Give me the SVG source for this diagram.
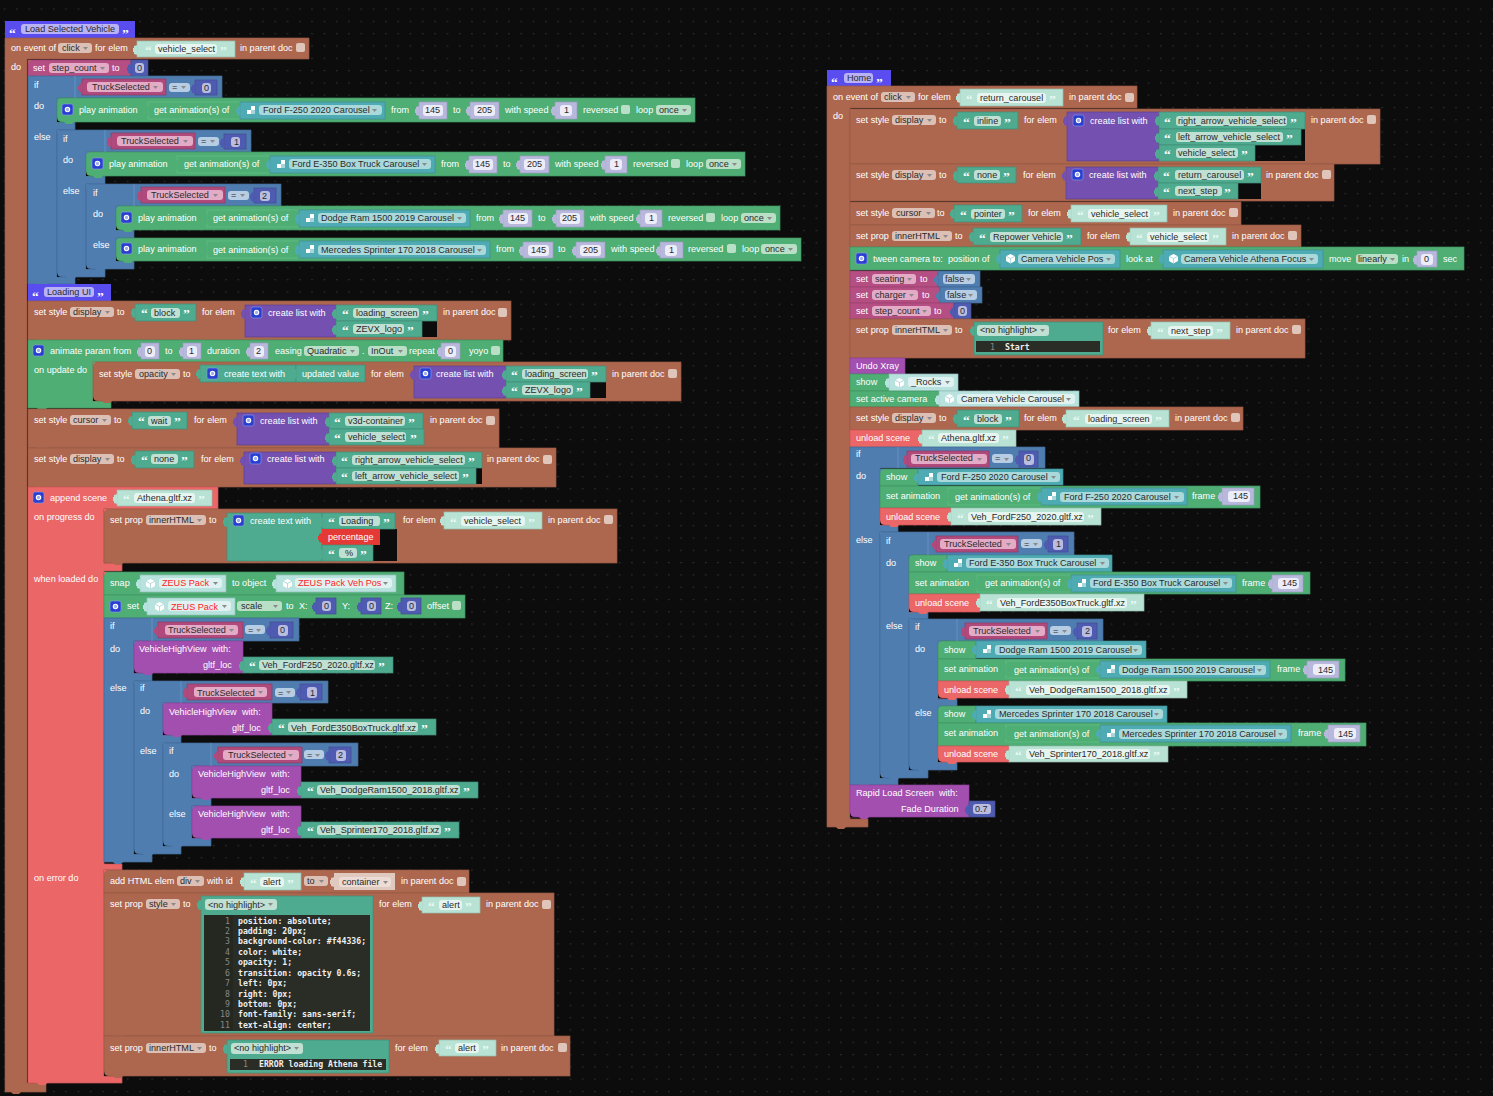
<svg xmlns="http://www.w3.org/2000/svg" width="1493" height="1096" viewBox="0 0 1493 1096">
<style>
text{font:9.1px "Liberation Sans",Arial,sans-serif;fill:#fff}
.d{fill:#2a2a2a}.r{fill:#f22}
.m{font:bold 8.2px "DejaVu Sans Mono","Liberation Mono",monospace;fill:#eee}
.n{font:8.2px "DejaVu Sans Mono","Liberation Mono",monospace;fill:#888}
.q{font:bold 13.5px "Liberation Serif",serif;fill:#fff;transform:translate(0,2.5px)}.ql{fill:#eafaf4}
.f{rx:3px}
.br{fill:#ae674f;stroke:#955844}.gr{fill:#4fae74;stroke:#419563}.bl{fill:#4f7db0;stroke:#436c99}.pk{fill:#b54e83;stroke:#9c4370}.pd{fill:#b04a7c;stroke:#8e3a64}
.pu{fill:#7450b0;stroke:#5d3f90}.co{fill:#ea6667;stroke:#cd5758}.ma{fill:#a34fb0;stroke:#8c4398}.ha{fill:#5a4df0}.rd{fill:#e53935}
.te{fill:#4fab8f;stroke:#3f8d75}.li{fill:#b7e2d4;stroke:#93bdae}.ob{fill:#4fabb3;stroke:#3f8d94}.nd{fill:#4f5bb0;stroke:#414b92}
.nl{fill:#b8b8dc;stroke:#9a9ac0}.ge{fill:#4fae74;stroke:#63c088}.cb{fill:#e0c9bf}.ol{fill:#b7e2de;stroke:#93bdba}.fb{fill:#4f7db0;stroke:#3f6796}
.br,.gr,.bl,.pk,.pd,.pu,.co,.ma,.te,.li,.ob,.nd,.nl,.ge,.ol,.fb{stroke-width:.7}
g use[class]{stroke:none}
.il{stroke:#6c97c6;stroke-width:.8;fill:none}
.ed{fill:#2a2c26}.gu{fill:#1f201c}
.fh{fill:#b9b2f5}.fp{fill:#e3abc6}.fd{fill:#dcc0b5}.fg{fill:#b9dfc7}.fs{fill:#bfe0d3}.fw{fill:#e6f5ef}.fo{fill:#a9d9da}.fn{fill:#b9bde0}.fl{fill:#ecedf8}.fe{fill:#b7cde3}.fc{fill:#ecdcd5}.fj{fill:#dff1f0}
.k{rx:2px;width:9px;height:9px}.kb{fill:#e0c5bb}.kg{fill:#b9dfc7}
.bk{fill:url(#dots)}.kk{fill:#0c0c0c}
</style>
<defs>
<pattern id="dots" width="12.3" height="12.3" patternUnits="userSpaceOnUse"><rect width="12.3" height="12.3" fill="#0c0c0c"/><rect x="4" y="8.5" width="1.2" height="1.2" fill="#3a3a3a"/></pattern>
<path id="nt" d="M0 0l3 3h6l3-3z"/>
<path id="ar" d="M0 0h5l-2.500 3z" fill="#8a8a8a"/>
<path id="tb" d="M.5 4L-3 5V7H-4V11H-3V13L.5 14z"/>
<path id="cb" d="M0-5V0H5Q0 0 0-5z"/>
<path id="ct" d="M0 5V0H5Q0 0 0 5z"/>
<g id="g"><rect width="11" height="11" rx="2" fill="#2a3fd0" stroke="#8f9ae8" stroke-width=".6"/><circle cx="5.500" cy="5.500" r="2.200" fill="#9fb0ee" stroke="#fff" stroke-width="1.100"/></g>
<g id="an"><rect width="8" height="8" fill="#fff"/><rect width="4" height="4" fill="#4fabb3"/><rect x="4" y="4" width="4" height="4" fill="#4fabb3" opacity=".5"/></g>
<g id="cu"><path d="M4.500 0L9 2.200V7L4.500 9.500 0 7V2.200z" fill="#fff"/><path d="M4.500 4.500V9.500M0 2.200L4.500 4.500 9 2.200" stroke="#9cc" stroke-width=".7" fill="none"/></g>
</defs>
<rect width="1493" height="1096" fill="url(#dots)"/>

<g id="load-selected-vehicle">
<g id="hat-load"><rect class="ha" x="5" y="21" width="130" height="17"/><use href="#nt" class="ha" x="14" y="37"/><rect class="f fh" x="21" y="24" width="98" height="10"/><text class="q" x="9" y="35">“</text><text class="d" x="25" y="32">Load Selected Vehicle</text><text class="q" x="122" y="35">”</text></g>
<g id="event-click">
<path class="br" d="M5 38H309V59H27V1083H46V1092H5z"/><use href="#nt" class="br" x="10" y="1091"/>
<text x="11" y="51">on event of</text><rect class="f fd" x="58" y="43" width="34" height="10"/><text class="d" x="62" y="51">click</text><use href="#ar" x="83" y="47"/><text x="95" y="51">for elem</text>
<rect class="li" x="137" y="41" width="98" height="16"/><rect class="f fw" x="155" y="44" width="62" height="10"/><text class="q ql" x="145" y="52">“</text><text class="d" x="158" y="52">vehicle_select</text><text class="q ql" x="220" y="52">”</text>
<text x="240" y="51">in parent doc</text><rect class="k kb" x="296" y="43"/><text x="11" y="70">do</text>
</g>
<g id="set-step-count"><rect class="pk" x="28" y="60" width="103" height="16"/><use href="#nt" class="pk" x="36" y="75"/><text x="33" y="71">set</text><rect class="f fp" x="49" y="63" width="60" height="10"/><text class="d" x="52" y="71">step_count</text><use href="#ar" x="100" y="67"/><text x="112" y="71">to</text><rect class="nd" x="131" y="60" width="17" height="16"/><rect class="f fn" x="135" y="63" width="9" height="10"/><text class="d" x="137" y="71">0</text></g>

<g id="if-a1">
<path class="bl" d="M28 76H222V98H57V122H75V130H57V276H75V284H28z"/><use href="#nt" class="bl" x="36" y="283"/>
<text x="34" y="88">if</text><text x="34" y="109">do</text><text x="34" y="140">else</text>
<rect class="pd" x="82" y="79" width="84" height="16"/><rect class="f fp" x="87" y="82" width="76" height="10"/><text class="d" x="92" y="90">TruckSelected</text><use href="#ar" x="153" y="86"/>
<rect class="f fe" x="169" y="83" width="21" height="9"/><text class="d" x="172" y="90">=</text><use href="#ar" x="181" y="86"/>
<rect class="nd" x="195" y="80" width="22" height="15"/><rect class="f fn" x="202" y="83" width="9" height="10"/><text class="d" x="204" y="91">0</text>
</g>
<g id="play-a1"><rect class="gr" x="57" y="98" width="638" height="24"/><use href="#nt" class="gr" x="63" y="121"/><use href="#g" x="62" y="104"/><text x="79" y="113">play animation</text>
<rect class="ge" x="148" y="102" width="92" height="17"/><text x="154" y="113">get animation(s) of</text>
<rect class="ob" x="240" y="102" width="145" height="17"/><use href="#an" x="247" y="106"/><rect class="f fo" x="259" y="105" width="123" height="10"/><text class="d" x="263" y="113">Ford F-250 2020 Carousel</text><use href="#ar" x="372" y="109"/>
<text x="391" y="113">from</text><rect class="nl" x="419" y="102" width="28" height="17"/><rect class="f fl" x="423" y="105" width="20" height="11"/><text class="d" x="425" y="113">145</text><text x="453" y="113">to</text><rect class="nl" x="470" y="102" width="29" height="17"/><rect class="f fl" x="474" y="105" width="21" height="11"/><text class="d" x="477" y="113">205</text><text x="505" y="113">with speed</text><rect class="nl" x="555" y="102" width="22" height="17"/><rect class="f fl" x="560" y="105" width="12" height="11"/><text class="d" x="564" y="113">1</text><text x="583" y="113">reversed</text><rect class="k kg" x="621" y="105"/><text x="636" y="113">loop</text><rect class="f fg" x="656" y="105" width="35" height="10"/><text class="d" x="659" y="113">once</text><use href="#ar" x="682" y="109"/></g>

<g id="if-a2">
<path class="bl" d="M57 130H251V152H86V176H105V184H86V269H105V277H57z"/><use href="#nt" class="bl" x="65" y="276"/>
<text x="63" y="142">if</text><text x="63" y="163">do</text><text x="63" y="194">else</text>
<rect class="pd" x="111" y="133" width="84" height="16"/><rect class="f fp" x="117" y="136" width="76" height="10"/><text class="d" x="121" y="144">TruckSelected</text><use href="#ar" x="183" y="140"/>
<rect class="f fe" x="198" y="137" width="21" height="9"/><text class="d" x="201" y="144">=</text><use href="#ar" x="210" y="140"/>
<rect class="nd" x="224" y="134" width="22" height="15"/><rect class="f fn" x="231" y="137" width="9" height="10"/><text class="d" x="234" y="145">1</text>
</g>
<g id="play-a2"><rect class="gr" x="86" y="152" width="659" height="24"/><use href="#nt" class="gr" x="92" y="175"/><use href="#g" x="92" y="158"/><text x="109" y="167">play animation</text>
<rect class="ge" x="177" y="156" width="93" height="17"/><text x="184" y="167">get animation(s) of</text>
<rect class="ob" x="270" y="156" width="165" height="17"/><use href="#an" x="277" y="160"/><rect class="f fo" x="289" y="159" width="142" height="10"/><text class="d" x="292" y="167">Ford E-350 Box Truck Carousel</text><use href="#ar" x="422" y="163"/>
<text x="441" y="167">from</text><rect class="nl" x="469" y="156" width="28" height="17"/><rect class="f fl" x="473" y="159" width="20" height="11"/><text class="d" x="475" y="167">145</text><text x="503" y="167">to</text><rect class="nl" x="520" y="156" width="29" height="17"/><rect class="f fl" x="524" y="159" width="21" height="11"/><text class="d" x="527" y="167">205</text><text x="555" y="167">with speed</text><rect class="nl" x="605" y="156" width="22" height="17"/><rect class="f fl" x="610" y="159" width="12" height="11"/><text class="d" x="614" y="167">1</text><text x="633" y="167">reversed</text><rect class="k kg" x="671" y="159"/><text x="686" y="167">loop</text><rect class="f fg" x="706" y="159" width="35" height="10"/><text class="d" x="709" y="167">once</text><use href="#ar" x="732" y="163"/></g>

<g id="if-a3">
<path class="bl" d="M86 184H281V206H116V230H134V238H116V261H134V269H86z"/><use href="#nt" class="bl" x="94" y="268"/>
<text x="93" y="196">if</text><text x="93" y="217">do</text><text x="93" y="248">else</text>
<rect class="pd" x="141" y="187" width="84" height="16"/><rect class="f fp" x="147" y="190" width="76" height="10"/><text class="d" x="151" y="198">TruckSelected</text><use href="#ar" x="213" y="194"/>
<rect class="f fe" x="228" y="191" width="21" height="9"/><text class="d" x="231" y="198">=</text><use href="#ar" x="240" y="194"/>
<rect class="nd" x="254" y="188" width="22" height="15"/><rect class="f fn" x="260" y="191" width="10" height="10"/><text class="d" x="262" y="199">2</text>
</g>
<g id="play-a3"><rect class="gr" x="116" y="206" width="664" height="24"/><use href="#nt" class="gr" x="122" y="229"/><use href="#g" x="121" y="212"/><text x="138" y="221">play animation</text>
<rect class="ge" x="207" y="210" width="92" height="17"/><text x="213" y="221">get animation(s) of</text>
<rect class="ob" x="299" y="210" width="171" height="17"/><use href="#an" x="306" y="214"/><rect class="f fo" x="318" y="213" width="148" height="10"/><text class="d" x="321" y="221">Dodge Ram 1500 2019 Carousel</text><use href="#ar" x="457" y="217"/>
<text x="476" y="221">from</text><rect class="nl" x="503" y="210" width="29" height="17"/><rect class="f fl" x="508" y="213" width="20" height="11"/><text class="d" x="510" y="221">145</text><text x="538" y="221">to</text><rect class="nl" x="556" y="210" width="28" height="17"/><rect class="f fl" x="560" y="213" width="20" height="11"/><text class="d" x="562" y="221">205</text><text x="590" y="221">with speed</text><rect class="nl" x="640" y="210" width="22" height="17"/><rect class="f fl" x="645" y="213" width="12" height="11"/><text class="d" x="649" y="221">1</text><text x="668" y="221">reversed</text><rect class="k kg" x="706" y="213"/><text x="721" y="221">loop</text><rect class="f fg" x="741" y="213" width="35" height="10"/><text class="d" x="744" y="221">once</text><use href="#ar" x="767" y="217"/></g>
<g id="play-a4"><rect class="gr" x="116" y="238" width="685" height="23"/><use href="#nt" class="gr" x="122" y="260"/><use href="#g" x="121" y="243"/><text x="138" y="252">play animation</text>
<rect class="ge" x="207" y="241" width="92" height="17"/><text x="213" y="253">get animation(s) of</text>
<rect class="ob" x="299" y="241" width="191" height="17"/><use href="#an" x="306" y="245"/><rect class="f fo" x="318" y="245" width="168" height="10"/><text class="d" x="321" y="253">Mercedes Sprinter 170 2018 Carousel</text><use href="#ar" x="477" y="249"/>
<text x="496" y="252">from</text><rect class="nl" x="523" y="242" width="30" height="16"/><rect class="f fl" x="528" y="245" width="21" height="11"/><text class="d" x="531" y="253">145</text><text x="558" y="252">to</text><rect class="nl" x="576" y="242" width="29" height="16"/><rect class="f fl" x="580" y="245" width="21" height="11"/><text class="d" x="583" y="253">205</text><text x="611" y="252">with speed</text><rect class="nl" x="660" y="242" width="23" height="16"/><rect class="f fl" x="665" y="245" width="12" height="11"/><text class="d" x="669" y="253">1</text><text x="688" y="252">reversed</text><rect class="k kg" x="727" y="244"/><text x="742" y="252">loop</text><rect class="f fg" x="761" y="244" width="36" height="10"/><text class="d" x="765" y="252">once</text><use href="#ar" x="788" y="248"/></g>

<g id="hat-loading"><rect class="ha" x="28" y="284" width="83" height="17"/><use href="#nt" class="ha" x="36" y="300"/><rect class="f fh" x="44" y="287" width="50" height="10"/><text class="q" x="32" y="298">“</text><text class="d" x="47" y="295">Loading UI</text><text class="q" x="97" y="298">”</text></g>

<g id="style-display-block"><rect class="br" x="28" y="301" width="483" height="39"/><text x="34" y="315">set style</text><rect class="f fd" x="70" y="307" width="44" height="10"/><text class="d" x="73" y="315">display</text><use href="#ar" x="105" y="311"/><text x="117" y="315">to</text>
<rect class="te" x="135" y="304" width="61" height="17"/><rect class="f fs" x="151" y="308" width="29" height="10"/><text class="q" x="141" y="315">“</text><text class="d" x="154" y="316">block</text><text class="q" x="183" y="315">”</text><text x="202" y="315">for elem</text>
<rect class="pu" x="245" y="305" width="91" height="32"/><use href="#g" x="251" y="307"/><text x="268" y="316">create list with</text>
<rect class="kk" x="420" y="321" width="17" height="16"/>
<rect class="te" x="336" y="305" width="101" height="16"/><rect class="f fs" x="353" y="308" width="66" height="10"/><text class="q" x="342" y="316">“</text><text class="d" x="356" y="316">loading_screen</text><text class="q" x="422" y="316">”</text>
<rect class="te" x="336" y="321" width="86" height="16"/><rect class="f fs" x="353" y="324" width="51" height="10"/><text class="q" x="342" y="332">“</text><text class="d" x="356" y="332">ZEVX_logo</text><text class="q" x="407" y="332">”</text>
<text x="443" y="315">in parent doc</text><rect class="k kb" x="498" y="308"/><use href="#nt" class="br" x="36" y="339"/></g>

<g id="animate-param"><path class="gr" d="M28 340H503V366H111V408H28z"/><use href="#nt" class="gr" x="36" y="407"/><use href="#g" x="33" y="345"/><text x="50" y="354">animate param from</text>
<rect class="nl" x="141" y="343" width="18" height="16"/><rect class="f fl" x="145" y="346" width="10" height="11"/><text class="d" x="147" y="354">0</text><text x="165" y="354">to</text>
<rect class="nl" x="183" y="343" width="18" height="16"/><rect class="f fl" x="187" y="346" width="10" height="11"/><text class="d" x="189" y="354">1</text><text x="207" y="354">duration</text>
<rect class="nl" x="250" y="343" width="18" height="16"/><rect class="f fl" x="254" y="346" width="10" height="11"/><text class="d" x="256" y="354">2</text><text x="275" y="354">easing</text>
<rect class="f fg" x="304" y="346" width="55" height="10"/><text class="d" x="307" y="354">Quadratic</text><use href="#ar" x="350" y="350"/><text x="362" y="354">.</text><rect class="f fg" x="368" y="346" width="39" height="10"/><text class="d" x="371" y="354">InOut</text><use href="#ar" x="398" y="350"/><text x="409" y="354">repeat</text>
<rect class="nl" x="441" y="343" width="19" height="16"/><rect class="f fl" x="445" y="346" width="11" height="11"/><text class="d" x="448" y="354">0</text><text x="469" y="354">yoyo</text><rect class="k kg" x="491" y="346"/><text x="34" y="373">on update do</text></g>
<g id="style-opacity"><rect class="br" x="93" y="362" width="588" height="39"/><use href="#nt" class="br" x="101" y="400"/><text x="99" y="377">set style</text><rect class="f fd" x="135" y="369" width="45" height="10"/><text class="d" x="139" y="377">opacity</text><use href="#ar" x="171" y="373"/><text x="183" y="377">to</text>
<rect class="te" x="200" y="365" width="96" height="17"/><use href="#g" x="207" y="368"/><text x="224" y="377">create text with</text><rect class="te" x="296" y="365" width="69" height="17"/><text x="302" y="377">updated value</text><text x="371" y="377">for elem</text>
<rect class="pu" x="414" y="366" width="92" height="32"/><use href="#g" x="420" y="368"/><text x="436" y="377">create list with</text>
<rect class="kk" x="590" y="382" width="16" height="16"/>
<rect class="te" x="506" y="366" width="100" height="16"/><rect class="f fs" x="522" y="369" width="66" height="10"/><text class="q" x="511" y="377">“</text><text class="d" x="525" y="377">loading_screen</text><text class="q" x="591" y="377">”</text>
<rect class="te" x="506" y="382" width="84" height="16"/><rect class="f fs" x="522" y="385" width="51" height="10"/><text class="q" x="511" y="393">“</text><text class="d" x="525" y="393">ZEVX_logo</text><text class="q" x="576" y="393">”</text>
<text x="612" y="377">in parent doc</text><rect class="k kb" x="668" y="369"/></g>

<g id="style-cursor-wait"><rect class="br" x="28" y="409" width="471" height="39"/><use href="#nt" class="br" x="36" y="447"/><text x="34" y="423">set style</text><rect class="f fd" x="70" y="415" width="41" height="10"/><text class="d" x="73" y="423">cursor</text><use href="#ar" x="102" y="419"/><text x="114" y="423">to</text>
<rect class="te" x="132" y="412" width="55" height="17"/><rect class="f fs" x="148" y="416" width="23" height="10"/><text class="q" x="138" y="423">“</text><text class="d" x="151" y="424">wait</text><text class="q" x="174" y="423">”</text><text x="194" y="423">for elem</text>
<rect class="pu" x="237" y="413" width="92" height="32"/><use href="#g" x="243" y="415"/><text x="260" y="424">create list with</text>
<rect class="te" x="329" y="413" width="94" height="16"/><rect class="f fs" x="345" y="416" width="60" height="10"/><text class="q" x="334" y="424">“</text><text class="d" x="348" y="424">v3d-container</text><text class="q" x="408" y="424">”</text>
<rect class="te" x="329" y="429" width="95" height="16"/><rect class="f fs" x="345" y="432" width="61" height="10"/><text class="q" x="334" y="440">“</text><text class="d" x="348" y="440">vehicle_select</text><text class="q" x="410" y="440">”</text>
<text x="430" y="423">in parent doc</text><rect class="k kb" x="486" y="416"/></g>

<g id="style-display-none"><rect class="br" x="28" y="448" width="528" height="39"/><use href="#nt" class="br" x="36" y="486"/><text x="34" y="462">set style</text><rect class="f fd" x="70" y="454" width="44" height="10"/><text class="d" x="73" y="462">display</text><use href="#ar" x="105" y="458"/><text x="117" y="462">to</text>
<rect class="te" x="135" y="451" width="59" height="17"/><rect class="f fs" x="151" y="454" width="27" height="10"/><text class="q" x="141" y="462">“</text><text class="d" x="154" y="462">none</text><text class="q" x="181" y="462">”</text><text x="201" y="462">for elem</text>
<rect class="pu" x="244" y="452" width="92" height="32"/><use href="#g" x="250" y="453"/><text x="267" y="462">create list with</text>
<rect class="kk" x="476" y="468" width="6" height="16"/>
<rect class="te" x="336" y="452" width="146" height="16"/><rect class="f fs" x="352" y="455" width="113" height="10"/><text class="q" x="341" y="463">“</text><text class="d" x="355" y="463">right_arrow_vehicle_select</text><text class="q" x="468" y="463">”</text>
<rect class="te" x="336" y="468" width="140" height="16"/><rect class="f fs" x="352" y="471" width="107" height="10"/><text class="q" x="341" y="479">“</text><text class="d" x="355" y="479">left_arrow_vehicle_select</text><text class="q" x="462" y="479">”</text>
<text x="487" y="462">in parent doc</text><rect class="k kb" x="543" y="455"/></g>

<g id="append-scene"><path class="co" d="M28 487H218V509H104V563H122V571H104V864H122V870H104V1076H122V1083H28z"/><use href="#nt" class="co" x="36" y="1082"/><use href="#g" x="33" y="492"/><text x="50" y="501">append scene</text>
<rect class="li" x="117" y="490" width="95" height="16"/><rect class="f fw" x="134" y="493" width="61" height="10"/><text class="q ql" x="123" y="501">“</text><text class="d" x="137" y="501">Athena.gltf.xz</text><text class="q ql" x="198" y="501">”</text>
<text x="34" y="520">on progress do</text><text x="34" y="582">when loaded do</text><text x="34" y="881">on error do</text></g>

<g id="prop-progress"><rect class="br" x="104" y="509" width="513" height="54"/><use href="#nt" class="br" x="112" y="562"/><text x="110" y="523">set prop</text><rect class="f fd" x="146" y="515" width="60" height="10"/><text class="d" x="149" y="523">innerHTML</text><use href="#ar" x="197" y="519"/><text x="209" y="523">to</text>
<rect class="kk" x="373" y="529" width="24" height="32"/>
<rect class="te" x="227" y="513" width="95" height="48"/><use href="#g" x="233" y="515"/><text x="250" y="524">create text with</text>
<rect class="te" x="322" y="513" width="73" height="16"/><rect class="f fs" x="339" y="516" width="41" height="10"/><text class="q" x="328" y="524">“</text><text class="d" x="341" y="524">Loading</text><text class="q" x="383" y="524">”</text>
<rect class="rd" x="322" y="529" width="58" height="16"/><text x="328" y="540">percentage</text>
<rect class="te" x="322" y="545" width="51" height="16"/><rect class="f fs" x="339" y="548" width="18" height="10"/><text class="q" x="328" y="556">“</text><text class="d" x="345" y="556">%</text><text class="q" x="360" y="556">”</text>
<text x="403" y="523">for elem</text><rect class="li" x="444" y="512" width="98" height="17"/><rect class="f fw" x="461" y="516" width="64" height="10"/><text class="q ql" x="450" y="524">“</text><text class="d" x="464" y="524">vehicle_select</text><text class="q ql" x="528" y="524">”</text>
<text x="548" y="523">in parent doc</text><rect class="k kb" x="604" y="515"/></g>

<g id="snap"><rect class="gr" x="104" y="572" width="300" height="23"/><text x="110" y="586">snap</text><rect class="ol" x="140" y="575" width="86" height="17"/><use href="#cu" x="146" y="579"/><rect class="f fj" x="159" y="578" width="63" height="10"/><text class="r" x="162" y="586">ZEUS Pack</text><use href="#ar" x="213" y="582"/><text x="232" y="586">to object</text>
<rect class="ol" x="276" y="575" width="120" height="17"/><use href="#cu" x="283" y="579"/><rect class="f fj" x="295" y="578" width="97" height="10"/><text class="r" x="298" y="586">ZEUS Pack Veh Pos</text><use href="#ar" x="383" y="582"/></g>
<g id="set-scale"><rect class="gr" x="104" y="595" width="361" height="23"/><use href="#g" x="110" y="601"/><text x="127" y="609">set</text><rect class="ol" x="147" y="598" width="88" height="17"/><use href="#cu" x="155" y="602"/><rect class="f fj" x="168" y="601" width="63" height="10"/><text class="r" x="171" y="610">ZEUS Pack</text><use href="#ar" x="222" y="605"/>
<rect class="f fg" x="237" y="601" width="45" height="10"/><text class="d" x="241" y="609">scale</text><use href="#ar" x="273" y="605"/><text x="286" y="609">to</text><text x="299" y="609">X:</text><rect class="nd" x="316" y="598" width="20" height="16"/><rect class="f fn" x="322" y="601" width="9" height="10"/><text class="d" x="324" y="609">0</text><text x="342" y="609">Y:</text><rect class="nd" x="361" y="598" width="20" height="16"/><rect class="f fn" x="367" y="601" width="9" height="10"/><text class="d" x="369" y="609">0</text><text x="385" y="609">Z:</text><rect class="nd" x="401" y="598" width="20" height="16"/><rect class="f fn" x="407" y="601" width="9" height="10"/><text class="d" x="409" y="609">0</text><text x="427" y="609">offset</text><rect class="k kg" x="452" y="601"/></g>

<g id="if-b1"><path class="bl" d="M104 618H299V641H134V673H152V681H134V854H152V862H104z"/><use href="#nt" class="bl" x="112" y="861"/><text x="110" y="629">if</text><text x="110" y="652">do</text><text x="110" y="691">else</text>
<rect class="pd" x="158" y="622" width="85" height="16"/><rect class="f fp" x="165" y="625" width="73" height="10"/><text class="d" x="168" y="633">TruckSelected</text><use href="#ar" x="229" y="629"/>
<rect class="f fe" x="245" y="625" width="20" height="9"/><text class="d" x="248" y="633">=</text><use href="#ar" x="256" y="629"/>
<rect class="nd" x="270" y="622" width="23" height="16"/><rect class="f fn" x="278" y="625" width="10" height="11"/><text class="d" x="280" y="633">0</text></g>
<g id="vhv-1"><rect class="ma" x="134" y="641" width="109" height="32"/><use href="#nt" class="ma" x="142" y="672"/><text x="139" y="652">VehicleHighView</text><text x="212" y="652">with:</text><text x="203" y="668">gltf_loc</text>
<rect class="te" x="243" y="657" width="150" height="16"/><rect class="f fs" x="259" y="660" width="116" height="10"/><text class="q" x="249" y="668">“</text><text class="d" x="262" y="668">Veh_FordF250_2020.gltf.xz</text><text class="q" x="378" y="668">”</text></g>
<g id="if-b2"><path class="bl" d="M134 681H328V703H163V735H181V743H163V846H181V854H134z"/><use href="#nt" class="bl" x="142" y="853"/><text x="140" y="691">if</text><text x="140" y="714">do</text><text x="140" y="754">else</text>
<rect class="pd" x="187" y="684" width="85" height="16"/><rect class="f fp" x="194" y="687" width="73" height="10"/><text class="d" x="197" y="696">TruckSelected</text><use href="#ar" x="258" y="691"/>
<rect class="f fe" x="275" y="688" width="20" height="9"/><text class="d" x="278" y="696">=</text><use href="#ar" x="286" y="691"/>
<rect class="nd" x="300" y="684" width="22" height="16"/><rect class="f fn" x="307" y="687" width="10" height="11"/><text class="d" x="310" y="696">1</text></g>
<g id="vhv-2"><rect class="ma" x="163" y="703" width="109" height="32"/><use href="#nt" class="ma" x="171" y="734"/><text x="169" y="715">VehicleHighView</text><text x="242" y="715">with:</text><text x="232" y="731">gltf_loc</text>
<rect class="te" x="272" y="719" width="164" height="16"/><rect class="f fs" x="288" y="722" width="130" height="10"/><text class="q" x="278" y="730">“</text><text class="d" x="291" y="731">Veh_FordE350BoxTruck.gltf.xz</text><text class="q" x="421" y="730">”</text></g>
<g id="if-b3"><path class="bl" d="M163 743H358V766H192V798H211V806H192V838H211V846H163z"/><use href="#nt" class="bl" x="171" y="845"/><text x="169" y="754">if</text><text x="169" y="777">do</text><text x="169" y="817">else</text>
<rect class="pd" x="218" y="747" width="84" height="16"/><rect class="f fp" x="223" y="750" width="76" height="10"/><text class="d" x="228" y="758">TruckSelected</text><use href="#ar" x="288" y="754"/>
<rect class="f fe" x="304" y="750" width="20" height="9"/><text class="d" x="307" y="758">=</text><use href="#ar" x="315" y="754"/>
<rect class="nd" x="329" y="747" width="22" height="16"/><rect class="f fn" x="336" y="750" width="10" height="11"/><text class="d" x="338" y="758">2</text></g>
<g id="vhv-3"><rect class="ma" x="192" y="766" width="109" height="32"/><use href="#nt" class="ma" x="200" y="797"/><text x="198" y="777">VehicleHighView</text><text x="271" y="777">with:</text><text x="261" y="793">gltf_loc</text>
<rect class="te" x="301" y="782" width="177" height="16"/><rect class="f fs" x="317" y="785" width="143" height="10"/><text class="q" x="307" y="793">“</text><text class="d" x="320" y="793">Veh_DodgeRam1500_2018.gltf.xz</text><text class="q" x="463" y="793">”</text></g>
<g id="vhv-4"><rect class="ma" x="192" y="806" width="109" height="32"/><use href="#nt" class="ma" x="200" y="837"/><text x="198" y="817">VehicleHighView</text><text x="271" y="817">with:</text><text x="261" y="833">gltf_loc</text>
<rect class="te" x="301" y="822" width="158" height="16"/><rect class="f fs" x="317" y="825" width="124" height="10"/><text class="q" x="307" y="833">“</text><text class="d" x="320" y="833">Veh_Sprinter170_2018.gltf.xz</text><text class="q" x="444" y="833">”</text></g>

<g id="add-html"><rect class="br" x="104" y="870" width="365" height="23"/><text x="110" y="884">add HTML elem</text><rect class="f fd" x="177" y="876" width="27" height="10"/><text class="d" x="180" y="884">div</text><use href="#ar" x="195" y="880"/><text x="207" y="884">with id</text>
<rect class="li" x="244" y="873" width="57" height="17"/><rect class="f fw" x="260" y="877" width="24" height="10"/><text class="q ql" x="250" y="885">“</text><text class="d" x="263" y="885">alert</text><text class="q ql" x="287" y="885">”</text>
<rect class="f fd" x="304" y="876" width="24" height="10"/><text class="d" x="307" y="884">to</text><use href="#ar" x="319" y="880"/>
<rect class="cb" x="334" y="873" width="61" height="17"/><rect class="f fc" x="339" y="877" width="52" height="10"/><text class="d" x="342" y="885">container</text><use href="#ar" x="383" y="881"/><text x="401" y="884">in parent doc</text><rect class="k kb" x="457" y="877"/></g>
<g id="prop-style"><rect class="br" x="104" y="893" width="450" height="143"/><use href="#nt" class="br" x="112" y="1035"/><text x="110" y="907">set prop</text><rect class="f fd" x="146" y="899" width="34" height="10"/><text class="d" x="149" y="907">style</text><use href="#ar" x="171" y="903"/><text x="183" y="907">to</text>
<rect class="te" x="201" y="896" width="172" height="137"/><rect class="f fs" x="205" y="899" width="72" height="11"/><text class="d" x="208" y="908">&lt;no highlight&gt;</text><use href="#ar" x="268" y="903"/><rect class="ed" x="204" y="915" width="166" height="116"/><rect class="gu" x="204" y="915" width="29" height="116" opacity=".4"/>
<text class="n" x="225" y="924">1</text><text class="m" x="238" y="924">position: absolute;</text><text class="n" x="225" y="934">2</text><text class="m" x="238" y="934">padding: 20px;</text><text class="n" x="225" y="944">3</text><text class="m" x="238" y="944">background-color: #f44336;</text><text class="n" x="225" y="955">4</text><text class="m" x="238" y="955">color: white;</text><text class="n" x="225" y="965">5</text><text class="m" x="238" y="965">opacity: 1;</text><text class="n" x="225" y="976">6</text><text class="m" x="238" y="976">transition: opacity 0.6s;</text><text class="n" x="225" y="986">7</text><text class="m" x="238" y="986">left: 0px;</text><text class="n" x="225" y="997">8</text><text class="m" x="238" y="997">right: 0px;</text><text class="n" x="225" y="1007">9</text><text class="m" x="238" y="1007">bottom: 0px;</text><text class="n" x="220" y="1017">10</text><text class="m" x="238" y="1017">font-family: sans-serif;</text><text class="n" x="220" y="1028">11</text><text class="m" x="238" y="1028">text-align: center;</text>
<text x="379" y="907">for elem</text><rect class="li" x="422" y="897" width="58" height="16"/><rect class="f fw" x="439" y="900" width="23" height="10"/><text class="q ql" x="428" y="908">“</text><text class="d" x="442" y="908">alert</text><text class="q ql" x="465" y="908">”</text><text x="486" y="907">in parent doc</text><rect class="k kb" x="542" y="900"/></g>
<g id="prop-error"><rect class="br" x="104" y="1036" width="466" height="40"/><use href="#nt" class="br" x="112" y="1075"/><text x="110" y="1051">set prop</text><rect class="f fd" x="146" y="1043" width="60" height="10"/><text class="d" x="149" y="1051">innerHTML</text><use href="#ar" x="197" y="1047"/><text x="209" y="1051">to</text>
<rect class="te" x="227" y="1040" width="162" height="33"/><rect class="f fs" x="231" y="1043" width="72" height="11"/><text class="d" x="234" y="1051">&lt;no highlight&gt;</text><use href="#ar" x="294" y="1047"/><rect class="ed" x="230" y="1059" width="156" height="11"/><text class="n" x="243" y="1067">1</text><text class="m" x="259" y="1067">ERROR loading Athena file</text>
<text x="395" y="1051">for elem</text><rect class="li" x="439" y="1040" width="57" height="16"/><rect class="f fw" x="455" y="1043" width="24" height="10"/><text class="q ql" x="445" y="1051">“</text><text class="d" x="458" y="1051">alert</text><text class="q ql" x="482" y="1051">”</text><text x="501" y="1051">in parent doc</text><rect class="k kb" x="558" y="1043"/></g>
</g>

<g id="home">
<g id="hat-home"><rect class="ha" x="827" y="70" width="64" height="16"/><use href="#nt" class="ha" x="835" y="85"/><rect class="f fh" x="844" y="73" width="29" height="10"/><text class="q" x="831" y="84">“</text><text class="d" x="847" y="81">Home</text><text class="q" x="876" y="84">”</text></g>
<g id="event-home"><path class="br" d="M827 86H1137V108H850V819H868V827H827z"/><use href="#nt" class="br" x="835" y="826"/><text x="833" y="100">on event of</text><rect class="f fd" x="881" y="92" width="34" height="10"/><text class="d" x="884" y="100">click</text><use href="#ar" x="906" y="96"/><text x="918" y="100">for elem</text>
<rect class="li" x="960" y="89" width="103" height="17"/><rect class="f fw" x="977" y="93" width="69" height="10"/><text class="q ql" x="966" y="101">“</text><text class="d" x="980" y="101">return_carousel</text><text class="q ql" x="1049" y="101">”</text><text x="1069" y="100">in parent doc</text><rect class="k kb" x="1125" y="93"/><text x="833" y="119">do</text></g>

<g id="style-inline"><rect class="br" x="850" y="109" width="530" height="55"/><text x="856" y="123">set style</text><rect class="f fd" x="892" y="115" width="44" height="10"/><text class="d" x="895" y="123">display</text><use href="#ar" x="927" y="119"/><text x="939" y="123">to</text>
<rect class="te" x="957" y="112" width="61" height="17"/><rect class="f fs" x="974" y="116" width="27" height="10"/><text class="q" x="963" y="124">“</text><text class="d" x="977" y="124">inline</text><text class="q" x="1004" y="124">”</text><text x="1024" y="123">for elem</text>
<rect class="pu" x="1067" y="112" width="92" height="49"/><use href="#g" x="1073" y="115"/><text x="1090" y="124">create list with</text>
<rect class="bk" x="1255" y="145" width="50" height="16"/><rect class="bk" x="1301" y="129" width="4" height="16"/>
<rect class="te" x="1159" y="112" width="146" height="17"/><rect class="f fs" x="1176" y="116" width="111" height="10"/><text class="q" x="1164" y="124">“</text><text class="d" x="1178" y="124">right_arrow_vehicle_select</text><text class="q" x="1290" y="124">”</text>
<rect class="te" x="1159" y="129" width="142" height="16"/><rect class="f fs" x="1176" y="132" width="107" height="10"/><text class="q" x="1164" y="140">“</text><text class="d" x="1178" y="140">left_arrow_vehicle_select</text><text class="q" x="1286" y="140">”</text>
<rect class="te" x="1159" y="145" width="96" height="16"/><rect class="f fs" x="1176" y="148" width="62" height="10"/><text class="q" x="1164" y="156">“</text><text class="d" x="1178" y="156">vehicle_select</text><text class="q" x="1241" y="156">”</text>
<text x="1311" y="123">in parent doc</text><rect class="k kb" x="1367" y="115"/></g>

<g id="style-none"><rect class="br" x="850" y="164" width="484" height="37"/><text x="856" y="178">set style</text><rect class="f fd" x="892" y="170" width="44" height="10"/><text class="d" x="895" y="178">display</text><use href="#ar" x="927" y="174"/><text x="939" y="178">to</text>
<rect class="te" x="957" y="167" width="59" height="16"/><rect class="f fs" x="974" y="170" width="26" height="10"/><text class="q" x="963" y="178">“</text><text class="d" x="977" y="178">none</text><text class="q" x="1003" y="178">”</text><text x="1023" y="178">for elem</text>
<rect class="pu" x="1066" y="167" width="92" height="32"/><use href="#g" x="1072" y="169"/><text x="1089" y="178">create list with</text>
<rect class="kk" x="1238" y="183" width="23" height="16"/>
<rect class="te" x="1158" y="167" width="103" height="16"/><rect class="f fs" x="1175" y="170" width="69" height="10"/><text class="q" x="1163" y="178">“</text><text class="d" x="1178" y="178">return_carousel</text><text class="q" x="1247" y="178">”</text>
<rect class="te" x="1158" y="183" width="80" height="16"/><rect class="f fs" x="1175" y="186" width="47" height="10"/><text class="q" x="1163" y="194">“</text><text class="d" x="1178" y="194">next_step</text><text class="q" x="1224" y="194">”</text>
<text x="1266" y="178">in parent doc</text><rect class="k kb" x="1322" y="170"/></g>

<g id="style-pointer"><rect class="br" x="850" y="202" width="391" height="23"/><text x="856" y="216">set style</text><rect class="f fd" x="892" y="208" width="43" height="10"/><text class="d" x="896" y="216">cursor</text><use href="#ar" x="926" y="212"/><text x="937" y="216">to</text>
<rect class="te" x="954" y="205" width="68" height="17"/><rect class="f fs" x="971" y="209" width="34" height="10"/><text class="q" x="960" y="217">“</text><text class="d" x="974" y="217">pointer</text><text class="q" x="1008" y="217">”</text><text x="1028" y="216">for elem</text>
<rect class="li" x="1071" y="205" width="96" height="17"/><rect class="f fw" x="1088" y="209" width="62" height="10"/><text class="q ql" x="1077" y="217">“</text><text class="d" x="1091" y="217">vehicle_select</text><text class="q ql" x="1153" y="217">”</text><text x="1173" y="216">in parent doc</text><rect class="k kb" x="1229" y="208"/></g>

<g id="prop-repower"><rect class="br" x="850" y="225" width="451" height="22"/><text x="856" y="239">set prop</text><rect class="f fd" x="892" y="231" width="60" height="10"/><text class="d" x="895" y="239">innerHTML</text><use href="#ar" x="943" y="235"/><text x="955" y="239">to</text>
<rect class="te" x="973" y="228" width="108" height="17"/><rect class="f fs" x="990" y="232" width="73" height="10"/><text class="q" x="979" y="240">“</text><text class="d" x="993" y="240">Repower Vehicle</text><text class="q" x="1066" y="240">”</text><text x="1087" y="239">for elem</text>
<rect class="li" x="1130" y="228" width="96" height="17"/><rect class="f fw" x="1147" y="232" width="62" height="10"/><text class="q ql" x="1136" y="240">“</text><text class="d" x="1150" y="240">vehicle_select</text><text class="q ql" x="1212" y="240">”</text><text x="1232" y="239">in parent doc</text><rect class="k kb" x="1288" y="231"/></g>

<g id="tween"><rect class="gr" x="850" y="247" width="614" height="23"/><use href="#g" x="856" y="253"/><text x="873" y="262">tween camera to:</text><text x="948" y="262">position of</text>
<rect class="ob" x="1000" y="250" width="120" height="18"/><use href="#cu" x="1006" y="254"/><rect class="f fo" x="1018" y="254" width="97" height="10"/><text class="d" x="1021" y="262">Camera Vehicle Pos</text><use href="#ar" x="1106" y="258"/><text x="1126" y="262">look at</text>
<rect class="ob" x="1163" y="250" width="160" height="18"/><use href="#cu" x="1169" y="254"/><rect class="f fo" x="1181" y="254" width="137" height="10"/><text class="d" x="1184" y="262">Camera Vehicle Athena Focus</text><use href="#ar" x="1309" y="258"/><text x="1329" y="262">move</text>
<rect class="f fg" x="1356" y="254" width="42" height="10"/><text class="d" x="1358" y="262">linearly</text><use href="#ar" x="1390" y="258"/><text x="1402" y="262">in</text><rect class="nl" x="1417" y="251" width="20" height="16"/><rect class="f fl" x="1421" y="254" width="12" height="11"/><text class="d" x="1424" y="262">0</text><text x="1443" y="262">sec</text></g>

<g id="set-seating"><rect class="pk" x="850" y="271" width="88" height="16"/><text x="856" y="282">set</text><rect class="f fp" x="872" y="274" width="44" height="10"/><text class="d" x="875" y="282">seating</text><use href="#ar" x="907" y="278"/><text x="920" y="282">to</text><rect class="fb" x="938" y="271" width="42" height="16"/><rect class="f fe" x="943" y="274" width="32" height="10"/><text class="d" x="945" y="282">false</text><use href="#ar" x="966" y="278"/></g>
<g id="set-charger"><rect class="pk" x="850" y="287" width="90" height="16"/><text x="856" y="298">set</text><rect class="f fp" x="872" y="290" width="46" height="10"/><text class="d" x="875" y="298">charger</text><use href="#ar" x="909" y="294"/><text x="922" y="298">to</text><rect class="fb" x="940" y="287" width="42" height="16"/><rect class="f fe" x="945" y="290" width="32" height="10"/><text class="d" x="947" y="298">false</text><use href="#ar" x="968" y="294"/></g>
<g id="set-step-home"><rect class="pk" x="850" y="303" width="104" height="16"/><text x="856" y="314">set</text><rect class="f fp" x="872" y="306" width="59" height="10"/><text class="d" x="875" y="314">step_count</text><use href="#ar" x="922" y="310"/><text x="934" y="314">to</text><rect class="nd" x="954" y="303" width="17" height="16"/><rect class="f fn" x="958" y="306" width="9" height="10"/><text class="d" x="960" y="314">0</text></g>

<g id="prop-start"><rect class="br" x="850" y="319" width="455" height="39"/><text x="856" y="333">set prop</text><rect class="f fd" x="892" y="325" width="60" height="10"/><text class="d" x="895" y="333">innerHTML</text><use href="#ar" x="943" y="329"/><text x="955" y="333">to</text>
<rect class="te" x="974" y="322" width="129" height="33"/><rect class="f fs" x="977" y="325" width="72" height="11"/><text class="d" x="980" y="333">&lt;no highlight&gt;</text><use href="#ar" x="1040" y="329"/><rect class="ed" x="976" y="341" width="124" height="11"/><text class="n" x="990" y="350">1</text><text class="m" x="1005" y="350">Start</text>
<text x="1108" y="333">for elem</text><rect class="li" x="1151" y="322" width="79" height="17"/><rect class="f fw" x="1168" y="326" width="45" height="10"/><text class="q ql" x="1157" y="334">“</text><text class="d" x="1171" y="334">next_step</text><text class="q ql" x="1216" y="334">”</text><text x="1236" y="333">in parent doc</text><rect class="k kb" x="1292" y="325"/></g>

<g id="undo-xray"><rect class="ma" x="850" y="358" width="55" height="16"/><text x="856" y="369">Undo Xray</text></g>
<g id="show-rocks"><rect class="gr" x="850" y="374" width="39" height="17"/><text x="856" y="385">show</text><rect class="ol" x="889" y="374" width="69" height="17"/><use href="#cu" x="895" y="378"/><rect class="f fj" x="908" y="377" width="46" height="10"/><text class="d" x="911" y="385">_Rocks</text><use href="#ar" x="945" y="381"/></g>
<g id="active-camera"><rect class="gr" x="850" y="391" width="89" height="16"/><text x="856" y="402">set active camera</text><rect class="ol" x="939" y="391" width="140" height="16"/><use href="#cu" x="945" y="394"/><rect class="f fj" x="957" y="394" width="118" height="10"/><text class="d" x="961" y="402">Camera Vehicle Carousel</text><use href="#ar" x="1066" y="398"/></g>
<g id="style-block"><rect class="br" x="850" y="407" width="393" height="23"/><text x="856" y="421">set style</text><rect class="f fd" x="892" y="413" width="44" height="10"/><text class="d" x="895" y="421">display</text><use href="#ar" x="927" y="417"/><text x="939" y="421">to</text>
<rect class="te" x="957" y="410" width="62" height="17"/><rect class="f fs" x="974" y="414" width="28" height="10"/><text class="q" x="963" y="422">“</text><text class="d" x="977" y="422">block</text><text class="q" x="1005" y="422">”</text><text x="1024" y="421">for elem</text>
<rect class="li" x="1066" y="410" width="103" height="17"/><rect class="f fw" x="1085" y="414" width="67" height="10"/><text class="q ql" x="1073" y="422">“</text><text class="d" x="1088" y="422">loading_screen</text><text class="q ql" x="1155" y="422">”</text><text x="1175" y="421">in parent doc</text><rect class="k kb" x="1231" y="413"/></g>
<g id="unload-athena"><rect class="co" x="850" y="430" width="72" height="17"/><use href="#nt" class="co" x="858" y="446"/><text x="856" y="441">unload scene</text><rect class="li" x="922" y="430" width="94" height="17"/><rect class="f fw" x="938" y="433" width="61" height="10"/><text class="q ql" x="928" y="441">“</text><text class="d" x="941" y="441">Athena.gltf.xz</text><text class="q ql" x="1002" y="441">”</text></g>

<g id="if-c1"><path class="bl" d="M850 447H1045V468H880V525H898V532H880V777H898V785H850z"/><use href="#nt" class="bl" x="858" y="784"/><text x="856" y="457">if</text><text x="856" y="479">do</text><text x="856" y="543">else</text>
<rect class="pd" x="907" y="451" width="82" height="16"/><rect class="f fp" x="911" y="454" width="76" height="10"/><text class="d" x="915" y="461">TruckSelected</text><use href="#ar" x="977" y="458"/>
<rect class="f fe" x="992" y="454" width="21" height="9"/><text class="d" x="995" y="461">=</text><use href="#ar" x="1004" y="458"/>
<rect class="nd" x="1019" y="451" width="19" height="16"/><rect class="f fn" x="1024" y="454" width="10" height="11"/><text class="d" x="1026" y="461">0</text></g>
<g id="show-c1"><rect class="gr" x="880" y="469" width="38" height="17"/><text x="886" y="480">show</text><rect class="ob" x="918" y="469" width="145" height="16"/><use href="#an" x="925" y="473"/><rect class="f fo" x="937" y="472" width="123" height="10"/><text class="d" x="941" y="480">Ford F-250 2020 Carousel</text><use href="#ar" x="1051" y="476"/></g>
<g id="setan-c1"><rect class="gr" x="880" y="486" width="380" height="22"/><text x="886" y="499">set animation</text><rect class="ge" x="948" y="488" width="93" height="17"/><text x="955" y="500">get animation(s) of</text><rect class="ob" x="1041" y="488" width="146" height="17"/><use href="#an" x="1048" y="492"/><rect class="f fo" x="1060" y="492" width="124" height="10"/><text class="d" x="1064" y="500">Ford F-250 2020 Carousel</text><use href="#ar" x="1174" y="496"/><text x="1192" y="499">frame</text><rect class="nl" x="1222" y="488" width="32" height="17"/><rect class="f fl" x="1228" y="491" width="22" height="11"/><text class="d" x="1233" y="499">145</text></g>
<g id="unload-c1"><rect class="co" x="880" y="508" width="71" height="17"/><use href="#nt" class="co" x="888" y="524"/><text x="886" y="520">unload scene</text><rect class="li" x="951" y="508" width="150" height="17"/><rect class="f fw" x="968" y="512" width="116" height="10"/><text class="q ql" x="957" y="520">“</text><text class="d" x="971" y="520">Veh_FordF250_2020.gltf.xz</text><text class="q ql" x="1087" y="520">”</text></g>

<g id="if-c2"><path class="bl" d="M880 532H1074V555H909V612H928V619H909V770H928V778H880z"/><use href="#nt" class="bl" x="888" y="777"/><text x="886" y="544">if</text><text x="886" y="566">do</text><text x="886" y="629">else</text>
<rect class="pd" x="936" y="536" width="82" height="16"/><rect class="f fp" x="940" y="539" width="76" height="10"/><text class="d" x="944" y="547">TruckSelected</text><use href="#ar" x="1006" y="543"/>
<rect class="f fe" x="1021" y="539" width="21" height="9"/><text class="d" x="1024" y="547">=</text><use href="#ar" x="1033" y="543"/>
<rect class="nd" x="1048" y="536" width="20" height="16"/><rect class="f fn" x="1053" y="539" width="10" height="11"/><text class="d" x="1056" y="547">1</text></g>
<g id="show-c2"><rect class="gr" x="909" y="555" width="38" height="17"/><text x="915" y="566">show</text><rect class="ob" x="947" y="555" width="165" height="17"/><use href="#an" x="954" y="559"/><rect class="f fo" x="966" y="558" width="143" height="10"/><text class="d" x="969" y="566">Ford E-350 Box Truck Carousel</text><use href="#ar" x="1100" y="562"/></g>
<g id="setan-c2"><rect class="gr" x="909" y="572" width="401" height="22"/><text x="915" y="586">set animation</text><rect class="ge" x="977" y="575" width="94" height="17"/><text x="985" y="586">get animation(s) of</text><rect class="ob" x="1071" y="575" width="165" height="17"/><use href="#an" x="1078" y="579"/><rect class="f fo" x="1090" y="578" width="142" height="10"/><text class="d" x="1093" y="586">Ford E-350 Box Truck Carousel</text><use href="#ar" x="1223" y="582"/><text x="1242" y="586">frame</text><rect class="nl" x="1272" y="575" width="31" height="17"/><rect class="f fl" x="1278" y="578" width="21" height="11"/><text class="d" x="1282" y="586">145</text></g>
<g id="unload-c2"><rect class="co" x="909" y="594" width="71" height="18"/><use href="#nt" class="co" x="917" y="611"/><text x="915" y="606">unload scene</text><rect class="li" x="980" y="594" width="164" height="17"/><rect class="f fw" x="997" y="598" width="130" height="10"/><text class="q ql" x="986" y="606">“</text><text class="d" x="1000" y="606">Veh_FordE350BoxTruck.gltf.xz</text><text class="q ql" x="1130" y="606">”</text></g>

<g id="if-c3"><path class="bl" d="M909 619H1103V641H938V699H957V706H938V762H957V770H909z"/><use href="#nt" class="bl" x="917" y="769"/><text x="915" y="630">if</text><text x="915" y="652">do</text><text x="915" y="716">else</text>
<rect class="pd" x="965" y="623" width="82" height="16"/><rect class="f fp" x="969" y="626" width="76" height="10"/><text class="d" x="973" y="634">TruckSelected</text><use href="#ar" x="1035" y="630"/>
<rect class="f fe" x="1050" y="626" width="21" height="9"/><text class="d" x="1053" y="634">=</text><use href="#ar" x="1062" y="630"/>
<rect class="nd" x="1077" y="623" width="20" height="16"/><rect class="f fn" x="1082" y="626" width="10" height="11"/><text class="d" x="1085" y="634">2</text></g>
<g id="show-c3"><rect class="gr" x="938" y="641" width="38" height="18"/><text x="944" y="653">show</text><rect class="ob" x="976" y="641" width="170" height="17"/><use href="#an" x="983" y="645"/><rect class="f fo" x="995" y="645" width="147" height="10"/><text class="d" x="999" y="653">Dodge Ram 1500 2019 Carousel</text><use href="#ar" x="1133" y="649"/></g>
<g id="setan-c3"><rect class="gr" x="938" y="659" width="407" height="22"/><text x="944" y="672">set animation</text><rect class="ge" x="1006" y="661" width="94" height="17"/><text x="1014" y="673">get animation(s) of</text><rect class="ob" x="1100" y="661" width="170" height="17"/><use href="#an" x="1107" y="665"/><rect class="f fo" x="1119" y="665" width="147" height="10"/><text class="d" x="1122" y="673">Dodge Ram 1500 2019 Carousel</text><use href="#ar" x="1257" y="669"/><text x="1277" y="672">frame</text><rect class="nl" x="1307" y="661" width="32" height="17"/><rect class="f fl" x="1313" y="664" width="22" height="11"/><text class="d" x="1318" y="673">145</text></g>
<g id="unload-c3"><rect class="co" x="938" y="681" width="71" height="17"/><use href="#nt" class="co" x="946" y="697"/><text x="944" y="693">unload scene</text><rect class="li" x="1009" y="681" width="178" height="17"/><rect class="f fw" x="1026" y="685" width="144" height="10"/><text class="q ql" x="1015" y="693">“</text><text class="d" x="1029" y="693">Veh_DodgeRam1500_2018.gltf.xz</text><text class="q ql" x="1173" y="693">”</text></g>
<g id="show-c4"><rect class="gr" x="938" y="706" width="38" height="17"/><text x="944" y="717">show</text><rect class="ob" x="976" y="706" width="191" height="17"/><use href="#an" x="983" y="710"/><rect class="f fo" x="995" y="709" width="168" height="10"/><text class="d" x="999" y="717">Mercedes Sprinter 170 2018 Carousel</text><use href="#ar" x="1154" y="713"/></g>
<g id="setan-c4"><rect class="gr" x="938" y="723" width="428" height="23"/><text x="944" y="736">set animation</text><rect class="ge" x="1006" y="725" width="94" height="17"/><text x="1014" y="737">get animation(s) of</text><rect class="ob" x="1100" y="725" width="191" height="17"/><use href="#an" x="1107" y="729"/><rect class="f fo" x="1119" y="729" width="168" height="10"/><text class="d" x="1122" y="737">Mercedes Sprinter 170 2018 Carousel</text><use href="#ar" x="1278" y="733"/><text x="1298" y="736">frame</text><rect class="nl" x="1328" y="725" width="32" height="17"/><rect class="f fl" x="1334" y="728" width="22" height="11"/><text class="d" x="1338" y="737">145</text></g>
<g id="unload-c4"><rect class="co" x="938" y="746" width="71" height="16"/><use href="#nt" class="co" x="946" y="761"/><text x="944" y="757">unload scene</text><rect class="li" x="1009" y="746" width="159" height="16"/><rect class="f fw" x="1026" y="749" width="124" height="10"/><text class="q ql" x="1015" y="757">“</text><text class="d" x="1029" y="757">Veh_Sprinter170_2018.gltf.xz</text><text class="q ql" x="1153" y="757">”</text></g>

<g id="rapid-load"><rect class="ma" x="850" y="785" width="119" height="32"/><use href="#nt" class="ma" x="858" y="816"/><text x="856" y="796">Rapid Load Screen</text><text x="939" y="796">with:</text><text x="901" y="812">Fade Duration</text><rect class="nd" x="969" y="801" width="26" height="16"/><rect class="f fn" x="973" y="804" width="18" height="10"/><text class="d" x="975" y="812">0.7</text></g>
</g>

<g id="input-tabs">
<use href="#tb" class="li" x="137" y="41"/><use href="#tb" class="nd" x="131" y="60"/><use href="#tb" class="pd" x="82" y="79"/><use href="#tb" class="nd" x="195" y="80"/>
<use href="#tb" class="ge" x="148" y="102"/><use href="#tb" class="ob" x="240" y="102"/><use href="#tb" class="nl" x="419" y="102"/><use href="#tb" class="nl" x="470" y="102"/><use href="#tb" class="nl" x="555" y="102"/>
<use href="#tb" class="pd" x="111" y="133"/><use href="#tb" class="nd" x="224" y="134"/><use href="#tb" class="ge" x="177" y="156"/><use href="#tb" class="ob" x="270" y="156"/><use href="#tb" class="nl" x="469" y="156"/><use href="#tb" class="nl" x="520" y="156"/><use href="#tb" class="nl" x="605" y="156"/>
<use href="#tb" class="pd" x="141" y="187"/><use href="#tb" class="nd" x="254" y="188"/><use href="#tb" class="ge" x="207" y="210"/><use href="#tb" class="ob" x="299" y="210"/><use href="#tb" class="nl" x="503" y="210"/><use href="#tb" class="nl" x="556" y="210"/><use href="#tb" class="nl" x="640" y="210"/>
<use href="#tb" class="ge" x="207" y="241"/><use href="#tb" class="ob" x="299" y="241"/><use href="#tb" class="nl" x="523" y="242"/><use href="#tb" class="nl" x="576" y="242"/><use href="#tb" class="nl" x="660" y="242"/>
<use href="#tb" class="te" x="135" y="304"/><use href="#tb" class="pu" x="245" y="305"/><use href="#tb" class="te" x="336" y="305"/><use href="#tb" class="te" x="336" y="321"/>
<use href="#tb" class="nl" x="141" y="343"/><use href="#tb" class="nl" x="183" y="343"/><use href="#tb" class="nl" x="250" y="343"/><use href="#tb" class="nl" x="441" y="343"/>
<use href="#tb" class="te" x="200" y="365"/><use href="#tb" class="te" x="296" y="365"/><use href="#tb" class="pu" x="414" y="366"/><use href="#tb" class="te" x="506" y="366"/><use href="#tb" class="te" x="506" y="382"/>
<use href="#tb" class="te" x="132" y="412"/><use href="#tb" class="pu" x="237" y="413"/><use href="#tb" class="te" x="329" y="413"/><use href="#tb" class="te" x="329" y="429"/>
<use href="#tb" class="te" x="135" y="451"/><use href="#tb" class="pu" x="244" y="452"/><use href="#tb" class="te" x="336" y="452"/><use href="#tb" class="te" x="336" y="468"/>
<use href="#tb" class="li" x="117" y="490"/><use href="#tb" class="te" x="227" y="513"/><use href="#tb" class="te" x="322" y="513"/><use href="#tb" class="rd" x="322" y="529"/><use href="#tb" class="te" x="322" y="545"/><use href="#tb" class="li" x="444" y="512"/>
<use href="#tb" class="ol" x="140" y="575"/><use href="#tb" class="ol" x="276" y="575"/><use href="#tb" class="ol" x="147" y="598"/><use href="#tb" class="nd" x="316" y="598"/><use href="#tb" class="nd" x="361" y="598"/><use href="#tb" class="nd" x="401" y="598"/>
<use href="#tb" class="pd" x="158" y="622"/><use href="#tb" class="nd" x="270" y="622"/><use href="#tb" class="te" x="243" y="657"/><use href="#tb" class="pd" x="187" y="684"/><use href="#tb" class="nd" x="300" y="684"/><use href="#tb" class="te" x="272" y="719"/><use href="#tb" class="pd" x="218" y="747"/><use href="#tb" class="nd" x="329" y="747"/><use href="#tb" class="te" x="301" y="782"/><use href="#tb" class="te" x="301" y="822"/>
<use href="#tb" class="li" x="244" y="873"/><use href="#tb" class="cb" x="334" y="873"/><use href="#tb" class="te" x="201" y="896"/><use href="#tb" class="li" x="422" y="897"/><use href="#tb" class="te" x="227" y="1040"/><use href="#tb" class="li" x="439" y="1040"/>
<use href="#tb" class="li" x="960" y="89"/><use href="#tb" class="te" x="957" y="112"/><use href="#tb" class="pu" x="1067" y="112"/><use href="#tb" class="te" x="1159" y="112"/><use href="#tb" class="te" x="1159" y="129"/><use href="#tb" class="te" x="1159" y="145"/>
<use href="#tb" class="te" x="957" y="167"/><use href="#tb" class="pu" x="1066" y="167"/><use href="#tb" class="te" x="1158" y="167"/><use href="#tb" class="te" x="1158" y="183"/>
<use href="#tb" class="te" x="954" y="205"/><use href="#tb" class="li" x="1071" y="205"/><use href="#tb" class="te" x="973" y="228"/><use href="#tb" class="li" x="1130" y="228"/>
<use href="#tb" class="ob" x="1000" y="250"/><use href="#tb" class="ob" x="1163" y="250"/><use href="#tb" class="nl" x="1417" y="251"/><use href="#tb" class="fb" x="938" y="271"/><use href="#tb" class="fb" x="940" y="287"/><use href="#tb" class="nd" x="954" y="303"/>
<use href="#tb" class="te" x="974" y="322"/><use href="#tb" class="li" x="1151" y="322"/><use href="#tb" class="ol" x="889" y="374"/><use href="#tb" class="ol" x="939" y="391"/><use href="#tb" class="te" x="957" y="410"/><use href="#tb" class="li" x="1066" y="410"/><use href="#tb" class="li" x="922" y="430"/>
<use href="#tb" class="pd" x="907" y="451"/><use href="#tb" class="nd" x="1019" y="451"/><use href="#tb" class="ob" x="918" y="469"/><use href="#tb" class="ge" x="948" y="488"/><use href="#tb" class="ob" x="1041" y="488"/><use href="#tb" class="nl" x="1222" y="488"/><use href="#tb" class="li" x="951" y="508"/>
<use href="#tb" class="pd" x="936" y="536"/><use href="#tb" class="nd" x="1048" y="536"/><use href="#tb" class="ob" x="947" y="555"/><use href="#tb" class="ge" x="977" y="575"/><use href="#tb" class="ob" x="1071" y="575"/><use href="#tb" class="nl" x="1272" y="575"/><use href="#tb" class="li" x="980" y="594"/>
<use href="#tb" class="pd" x="965" y="623"/><use href="#tb" class="nd" x="1077" y="623"/><use href="#tb" class="ob" x="976" y="641"/><use href="#tb" class="ge" x="1006" y="661"/><use href="#tb" class="ob" x="1100" y="661"/><use href="#tb" class="nl" x="1307" y="661"/><use href="#tb" class="li" x="1009" y="681"/>
<use href="#tb" class="ob" x="976" y="706"/><use href="#tb" class="ge" x="1006" y="725"/><use href="#tb" class="ob" x="1100" y="725"/><use href="#tb" class="nl" x="1328" y="725"/><use href="#tb" class="li" x="1009" y="746"/><use href="#tb" class="nd" x="969" y="801"/>
</g>
<g id="block-edges">
<path class="il" d="M75 76V98M105 130V152M134 184V206M152 618V641M181 681V703M211 743V766M898 447V468M928 532V555M957 619V641"/>
<use href="#ct" class="bl" x="57" y="98"/><use href="#ct" class="bl" x="86" y="152"/><use href="#ct" class="bl" x="116" y="206"/><use href="#ct" class="bl" x="116" y="238"/><use href="#ct" class="bl" x="57" y="130"/><use href="#ct" class="bl" x="86" y="184"/><use href="#ct" class="bl" x="134" y="641"/><use href="#ct" class="bl" x="163" y="703"/><use href="#ct" class="bl" x="192" y="766"/><use href="#ct" class="bl" x="192" y="806"/><use href="#ct" class="bl" x="134" y="681"/><use href="#ct" class="bl" x="163" y="743"/>
<use href="#ct" class="gr" x="93" y="362"/><use href="#ct" class="co" x="104" y="509"/><use href="#ct" class="co" x="104" y="572"/><use href="#ct" class="co" x="104" y="870"/><use href="#ct" class="br" x="850" y="109"/><use href="#ct" class="br" x="28" y="60"/>
<use href="#ct" class="bl" x="880" y="469"/><use href="#ct" class="bl" x="880" y="532"/><use href="#ct" class="bl" x="909" y="555"/><use href="#ct" class="bl" x="909" y="619"/><use href="#ct" class="bl" x="938" y="641"/><use href="#ct" class="bl" x="938" y="706"/>
<use href="#cb" class="kk" x="57" y="122"/><use href="#cb" class="kk" x="86" y="176"/><use href="#cb" class="kk" x="116" y="230"/><use href="#cb" class="kk" x="116" y="261"/><use href="#cb" class="kk" x="134" y="673"/><use href="#cb" class="kk" x="163" y="735"/><use href="#cb" class="kk" x="192" y="798"/><use href="#cb" class="kk" x="192" y="838"/><use href="#cb" class="kk" x="57" y="277"/><use href="#cb" class="kk" x="86" y="269"/><use href="#cb" class="kk" x="134" y="854"/><use href="#cb" class="kk" x="163" y="846"/><use href="#cb" class="kk" x="880" y="778"/><use href="#cb" class="kk" x="909" y="770"/><use href="#cb" class="kk" x="880" y="525"/><use href="#cb" class="kk" x="909" y="612"/><use href="#cb" class="kk" x="938" y="698"/><use href="#cb" class="kk" x="938" y="762"/><use href="#cb" class="kk" x="850" y="817"/><use href="#cb" class="kk" x="93" y="401"/><use href="#cb" class="kk" x="104" y="1076"/>
</g>
</svg>
